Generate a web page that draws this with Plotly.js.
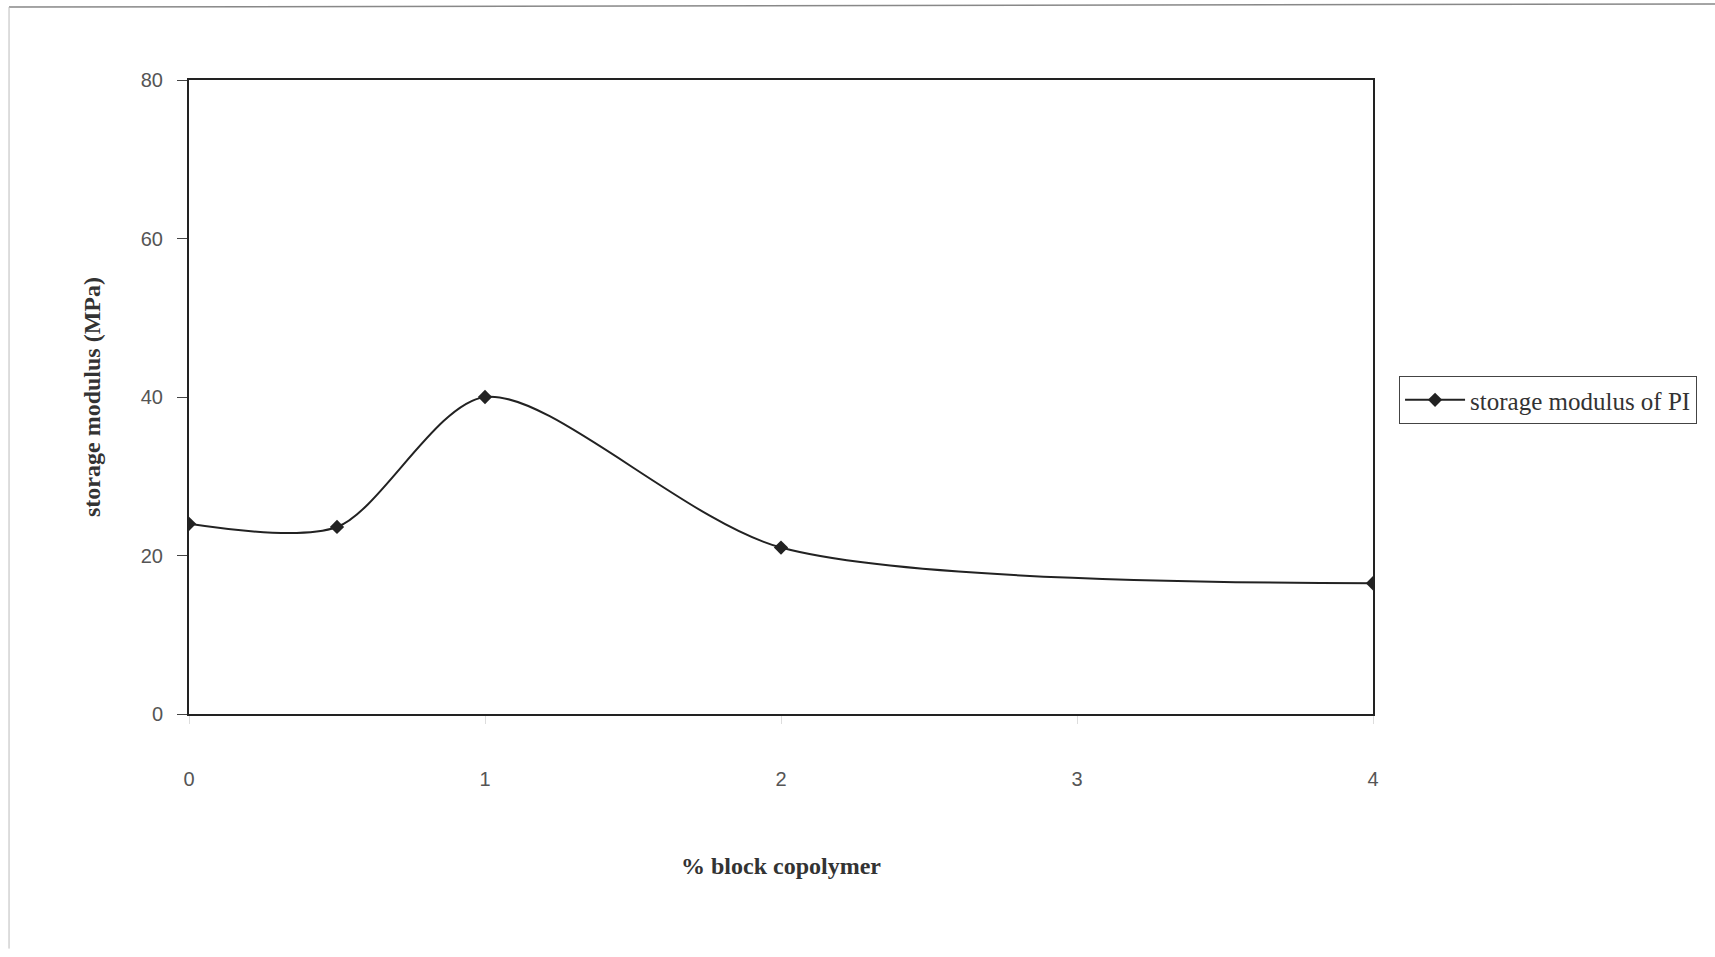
<!DOCTYPE html>
<html>
<head>
<meta charset="utf-8">
<script src="https://cdn.plot.ly/plotly-3.0.1.min.js"></script>
<style>html,body{margin:0;padding:0;background:#fff;}#chart{width:1715px;height:957px;}</style>
</head>
<body>
<div id="chart"></div>
<script>
const blockCopolymerPct = [0, 0.5, 1, 2, 4];
const storageModulusPI = [24, 23.6, 40, 21, 16.5];
const seriesName = 'storage modulus of PI';
const xTickVals = [0, 1, 2, 3, 4];
const yTickVals = [0, 20, 40, 60, 80];

const trace = {
  x: blockCopolymerPct,
  y: storageModulusPI,
  type: 'scatter',
  mode: 'lines+markers',
  name: seriesName,
  line: {color: '#222', width: 2, shape: 'spline', smoothing: 0.8},
  marker: {symbol: 'diamond', size: 11, color: '#222'}
};

const layout = {
  width: 1715,
  height: 957,
  margin: {l: 189, r: 342, t: 80, b: 243},
  paper_bgcolor: '#fff',
  plot_bgcolor: '#fff',
  showlegend: true,
  legend: {
    x: 1.022, y: 0.533, xanchor: 'left', yanchor: 'top',
    bordercolor: '#444', borderwidth: 1,
    itemwidth: 60,
    font: {family: 'Liberation Serif, serif', size: 25, color: '#333'}
  },
  xaxis: {
    range: [0, 4],
    tickvals: xTickVals,
    ticks: 'outside', ticklen: 8, tickcolor: '#ddd',
    ticklabelstandoff: 38,
    showline: true, linecolor: '#222', linewidth: 2, mirror: true,
    showgrid: false, zeroline: false,
    tickfont: {family: 'Liberation Sans, sans-serif', size: 20, color: '#555'},
    title: {text: '% block copolymer', standoff: 68,
      font: {family: 'Liberation Serif, serif', size: 24, color: '#333', weight: 'bold'}}
  },
  yaxis: {
    range: [0, 80],
    tickvals: yTickVals,
    ticks: 'outside', ticklen: 10, tickcolor: '#444',
    ticklabelstandoff: 10,
    showline: true, linecolor: '#222', linewidth: 2, mirror: true,
    showgrid: false, zeroline: false,
    tickfont: {family: 'Liberation Sans, sans-serif', size: 20, color: '#555'},
    title: {text: 'storage modulus (MPa)', standoff: 33,
      font: {family: 'Liberation Serif, serif', size: 24, color: '#333', weight: 'bold'}}
  },
  shapes: [
    {type: 'line', xref: 'paper', yref: 'paper', x0: -0.152, x1: 1.29, y0: 1.115, y1: 1.12,
     line: {color: '#888', width: 1.5}},
    {type: 'line', xref: 'paper', yref: 'paper', x0: -0.152, x1: -0.152, y0: 1.115, y1: -0.37,
     line: {color: '#bbb', width: 1}}
  ]
};

Plotly.newPlot('chart', [trace], layout, {displayModeBar: false, staticPlot: true});
</script>
</body>
</html>
